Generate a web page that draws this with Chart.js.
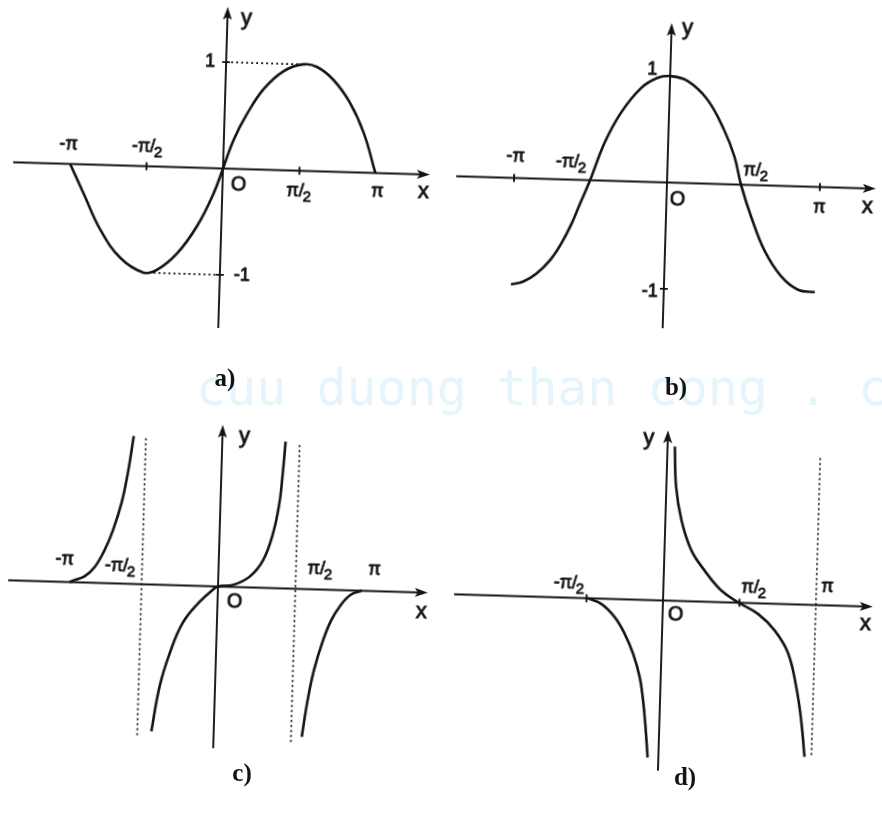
<!DOCTYPE html>
<html>
<head>
<meta charset="utf-8">
<script src="https://cdn.jsdelivr.net/npm/chart.js@4.4.0/dist/chart.umd.min.js"></script>
<style>
  body { margin: 0; background: #fff; }
  #page { position: relative; width: 882px; height: 823px; overflow: hidden; background: #fff; }
  #page canvas { position: absolute; transform: rotate(1.7deg); }
  .cap { position: absolute; font: bold 25px "Liberation Serif", serif; color: #141414; transform: translate(-50%, -50%); line-height: 1; }
  #wm { position: absolute; left: 196px; top: 363px; font: 50px "DejaVu Sans Mono", monospace; line-height: 50px; color: #e4f5fb; white-space: pre; }
</style>
</head>
<body>
<div id="page">
  <div id="wm">cuu duong than cong . c</div>
  <canvas id="chartA"></canvas>
  <canvas id="chartB"></canvas>
  <canvas id="chartC"></canvas>
  <canvas id="chartD"></canvas>
  <div class="cap" style="left:225px;top:377px">a)</div>
  <div class="cap" style="left:676px;top:386px">b)</div>
  <div class="cap" style="left:242px;top:772px">c)</div>
  <div class="cap" style="left:685px;top:776px">d)</div>
</div>
<script>
const PI = Math.PI;
const INK = '#141414';

// a) y = sin x (x in radians)
const sinX = [-3.14, -2.85, -2.48, -2.05, -1.57, -1.29, -0.89, -0.50, -0.18, 0, 0.20, 0.46, 0.79, 1.18, 1.57, 1.87, 2.22, 2.57, 2.87, 3.13];
const sinY = [0, -0.27, -0.61, -0.87, -1.0, -0.97, -0.81, -0.55, -0.24, 0, 0.27, 0.52, 0.76, 0.93, 1.0, 0.98, 0.86, 0.65, 0.37, 0];
const sinGuideTopX = [0, 1.57], sinGuideTopY = [1, 1];
const sinGuideBotX = [-1.57, 0], sinGuideBotY = [-1, -1];

// b) y = cos x
const cosX = [-3.14, -2.89, -2.62, -2.35, -2.13, -1.93, -1.77, -1.58, -1.31, -0.99, -0.59, -0.26, 0, 0.36, 0.78, 1.14, 1.37, 1.52, 1.75, 2.04, 2.40, 2.75, 3.10];
const cosY = [-1.0, -0.97, -0.89, -0.76, -0.60, -0.41, -0.22, 0, 0.35, 0.64, 0.88, 0.98, 1.0, 0.96, 0.79, 0.51, 0.26, 0, -0.30, -0.61, -0.85, -0.97, -0.99];

// c) y = tan x, three branches and two asymptotes
const tanLeftX = [-3.05, -2.95, -2.74, -2.54, -2.35, -2.19, -2.03, -1.92, -1.82];
const tanLeftY = [0, 0.02, 0.06, 0.15, 0.31, 0.50, 0.76, 1.04, 1.39];
const tanMidX = [-1.28, -1.14, -0.95, -0.70, -0.37, -0.10, 0, 0.31, 0.64, 0.91, 1.10, 1.21, 1.26, 1.30];
const tanMidY = [-1.38, -0.96, -0.64, -0.35, -0.15, -0.03, 0, 0.02, 0.10, 0.26, 0.52, 0.80, 1.08, 1.38];
const tanRightX = [1.81, 1.91, 2.02, 2.18, 2.34, 2.53, 2.73, 2.95];
const tanRightY = [-1.39, -1.04, -0.76, -0.49, -0.29, -0.14, -0.04, 0];
const tanAsymLeftX = [-1.57, -1.57], tanAsymLeftY = [-1.42, 1.39];
const tanAsymRightX = [1.59, 1.59], tanAsymRightY = [-1.44, 1.38];

// d) y = cot x
const cotLeftX = [-1.54, -1.26, -0.98, -0.77, -0.58, -0.43, -0.35, -0.29, -0.22];
const cotLeftY = [0, -0.05, -0.17, -0.32, -0.51, -0.73, -0.94, -1.16, -1.48];
const cotRightX = [0.15, 0.20, 0.33, 0.55, 0.84, 1.19, 1.56, 1.96, 2.31, 2.60, 2.79, 2.91, 3.00];
const cotRightY = [1.45, 1.07, 0.76, 0.48, 0.29, 0.11, 0, -0.10, -0.25, -0.46, -0.78, -1.09, -1.43];
const cotAsymX = [3.14, 3.14], cotAsymY = [-1.41, 1.41];

// every panel shares the same scale: 4.6 rad / 1.8 units each side of O
const XR = 4.6, YR = 1.8;
const W = 448, H = 383;

const pts = (xs, ys) => xs.map((x, i) => ({ x, y: ys[i] }));
const curve = (xs, ys) => ({
  data: pts(xs, ys), borderColor: INK, borderWidth: 2.6, pointRadius: 0,
  tension: 0.4, fill: false
});
const dotted = (xs, ys) => ({
  data: pts(xs, ys), borderColor: INK, borderWidth: 1.7, borderDash: [2, 3],
  pointRadius: 0, tension: 0, fill: false
});

// draws "π/2" style labels with a lowered 2; a thin stroke thickens the text like the scan
function drawLabel(ctx, t, cx, cy, size) {
  const big = `${size}px "Liberation Sans", Arial, sans-serif`;
  const small = `${Math.round(size * 0.85)}px "Liberation Sans", Arial, sans-serif`;
  ctx.textBaseline = 'middle';
  ctx.lineWidth = 0.8;
  const put = (s, px, py) => { ctx.fillText(s, px, py); ctx.strokeText(s, px, py); };
  const m = t.match(/^(.*)\/2$/);
  if (!m) {
    ctx.font = big; ctx.textAlign = 'center';
    put(t, cx, cy);
    return;
  }
  ctx.font = big; const w1 = ctx.measureText(m[1] + '/').width;
  ctx.font = small; const w2 = ctx.measureText('2').width;
  const left = cx - (w1 + w2 - 1) / 2;
  ctx.textAlign = 'left';
  ctx.font = big; put(m[1] + '/', left, cy);
  ctx.font = small; put('2', left + w1 - 1, cy + 5);
}

const mathAxes = {
  id: 'mathAxes',
  beforeDatasetsDraw(chart, args, o) {
    const { ctx, scales: { x, y } } = chart;
    const X = v => x.getPixelForValue(v), Y = v => y.getPixelForValue(v);
    ctx.save();
    ctx.strokeStyle = INK; ctx.fillStyle = INK; ctx.lineWidth = 1.9;
    // axes lines
    ctx.beginPath();
    ctx.moveTo(X(o.xAxis[0]), Y(0)); ctx.lineTo(X(o.xAxis[1]) - 6, Y(0));
    ctx.moveTo(X(0), Y(o.yAxis[0])); ctx.lineTo(X(0), Y(o.yAxis[1]) + 6);
    ctx.stroke();
    // arrow heads
    const tx = X(o.xAxis[1]), ty = Y(o.yAxis[1]);
    ctx.beginPath();
    ctx.moveTo(tx, Y(0)); ctx.lineTo(tx - 13, Y(0) - 4.5); ctx.lineTo(tx - 10, Y(0)); ctx.lineTo(tx - 13, Y(0) + 4.5);
    ctx.closePath(); ctx.fill();
    ctx.beginPath();
    ctx.moveTo(X(0), ty); ctx.lineTo(X(0) - 4.5, ty + 13); ctx.lineTo(X(0), ty + 10); ctx.lineTo(X(0) + 4.5, ty + 13);
    ctx.closePath(); ctx.fill();
    // tick marks
    ctx.beginPath();
    (o.xTicks || []).forEach(v => { ctx.moveTo(X(v), Y(0) - 4); ctx.lineTo(X(v), Y(0) + 4); });
    (o.yTicks || []).forEach(v => { ctx.moveTo(X(0) - 4, Y(v)); ctx.lineTo(X(0) + 4, Y(v)); });
    ctx.stroke();
    ctx.restore();
  },
  afterDatasetsDraw(chart, args, o) {
    const { ctx, scales: { x, y } } = chart;
    ctx.save();
    ctx.fillStyle = INK; ctx.strokeStyle = INK;
    (o.labels || []).forEach(l => {
      const px = x.getPixelForValue(l.x || 0) + (l.dx || 0);
      const py = y.getPixelForValue(l.y || 0) + (l.dy || 0);
      drawLabel(ctx, l.t, px, py, l.f || 18);
    });
    ctx.restore();
  }
};

function makePanel(id, ox, oy, datasets, axes) {
  const cv = document.getElementById(id);
  cv.width = W; cv.height = H;
  cv.style.left = (ox - W / 2) + 'px';
  cv.style.top = (oy - H / 2) + 'px';
  new Chart(cv, {
    type: 'line',
    data: { datasets },
    options: {
      responsive: false, animation: false, devicePixelRatio: 1,
      layout: { padding: 0 },
      scales: {
        x: { type: 'linear', min: -XR, max: XR, display: false },
        y: { type: 'linear', min: -YR, max: YR, display: false }
      },
      plugins: { legend: { display: false }, tooltip: { enabled: false }, mathAxes: axes }
    },
    plugins: [mathAxes]
  });
  cv.style.width = W + 'px'; cv.style.height = H + 'px';
}

makePanel('chartA', 222.7, 168.3, [
  dotted(sinGuideTopX, sinGuideTopY),
  dotted(sinGuideBotX, sinGuideBotY),
  curve(sinX, sinY)
], {
  xAxis: [-4.31, 4.25], yAxis: [-1.50, 1.52],
  xTicks: [-PI / 2, PI / 2], yTicks: [1, -1],
  labels: [
    { t: '-π', x: -PI, dx: -2, dy: -19 },
    { t: '-π/2', x: -PI / 2, dx: 0, dy: -19 },
    { t: 'O', dx: 16, dy: 16, f: 20 },
    { t: 'π/2', x: PI / 2, dx: 0, dy: 21 },
    { t: 'π', x: PI, dx: 2, dy: 19 },
    { t: 'x', dx: 201, dy: 17, f: 22 },
    { t: 'y', dx: 19, dy: -151, f: 22 },
    { t: '1', y: 1, dx: -16, dy: 0 },
    { t: '-1', y: -1, dx: 22, dy: 0 }
  ]
});

makePanel('chartB', 667, 182.7, [
  curve(cosX, cosY)
], {
  xAxis: [-4.33, 4.29], yAxis: [-1.37, 1.50],
  xTicks: [-PI, PI], yTicks: [1, -1],
  labels: [
    { t: '-π', x: -PI, dx: 1, dy: -21 },
    { t: '-π/2', x: -PI / 2, dx: -20, dy: -17 },
    { t: 'π/2', x: PI / 2, dx: 12, dy: -14 },
    { t: 'π', x: PI, dx: 0, dy: 21 },
    { t: 'O', dx: 11, dy: 17, f: 20 },
    { t: 'x', dx: 201, dy: 18, f: 22 },
    { t: 'y', dx: 16, dy: -155, f: 22 },
    { t: '1', y: 1, dx: -18, dy: -6 },
    { t: '-1', y: -1, dx: -14, dy: 3 }
  ]
});

makePanel('chartC', 218.3, 586.7, [
  dotted(tanAsymLeftX, tanAsymLeftY),
  dotted(tanAsymRightX, tanAsymRightY),
  curve(tanLeftX, tanLeftY),
  curve(tanMidX, tanMidY),
  curve(tanRightX, tanRightY)
], {
  xAxis: [-4.31, 4.31], yAxis: [-1.52, 1.52],
  labels: [
    { t: '-π', x: -PI, dx: -1, dy: -22 },
    { t: '-π/2', x: -PI / 2, dx: -22, dy: -17 },
    { t: 'π/2', x: PI / 2, dx: 25, dy: -20 },
    { t: 'π', x: PI, dx: 3, dy: -21 },
    { t: 'O', dx: 17, dy: 15, f: 20 },
    { t: 'x', dx: 204, dy: 19, f: 22 },
    { t: 'y', dx: 22, dy: -151, f: 22 }
  ]
});

makePanel('chartD', 663.3, 600.3, [
  dotted(cotAsymX, cotAsymY),
  curve(cotLeftX, cotLeftY),
  curve(cotRightX, cotRightY)
], {
  xAxis: [-4.29, 4.31], yAxis: [-1.60, 1.60],
  xTicks: [-PI / 2, PI / 2],
  labels: [
    { t: '-π/2', x: -PI / 2, dx: -18, dy: -14 },
    { t: 'π/2', x: PI / 2, dx: 14, dy: -15 },
    { t: 'π', x: PI, dx: 11, dy: -18 },
    { t: 'O', dx: 13, dy: 14, f: 20 },
    { t: 'x', dx: 203, dy: 17, f: 22 },
    { t: 'y', dx: -19, dy: -162, f: 22 }
  ]
});
</script>
</body>
</html>
